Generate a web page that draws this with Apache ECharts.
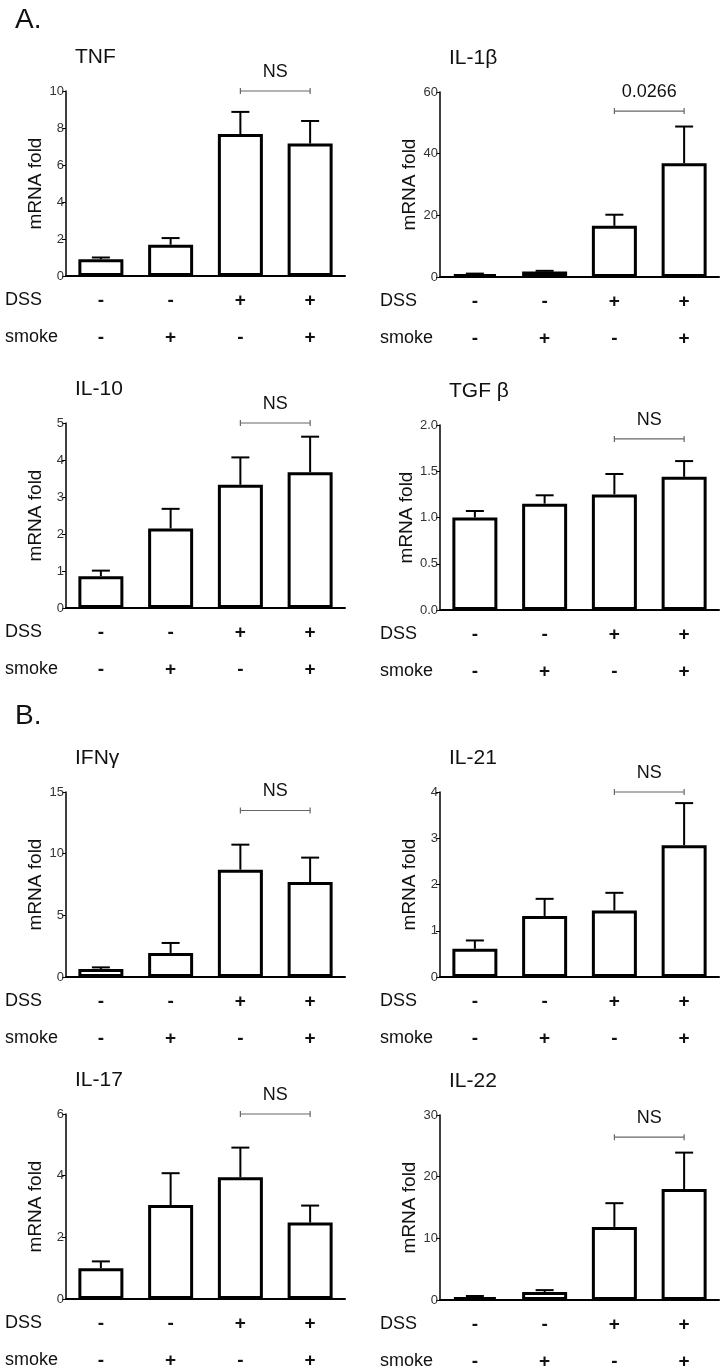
<!DOCTYPE html>
<html>
<head>
<meta charset="utf-8">
<script src="https://cdn.jsdelivr.net/npm/echarts@6/dist/echarts.min.js"></script>
<style>
  html, body { margin: 0; padding: 0; background: #fff; }
  #chart { width: 726px; height: 1371px; }
</style>
</head>
<body>
<div id="chart"></div>
<script>
// 分组：DSS / smoke 处理
const categories = ['DSS-/smoke-', 'DSS-/smoke+', 'DSS+/smoke-', 'DSS+/smoke+'];
const dssRow = ['-', '-', '+', '+'];
const smokeRow = ['-', '+', '-', '+'];

const panelNames = ['TNF', 'IL-1β', 'IL-10', 'TGF β', 'IFNγ', 'IL-21', 'IL-17', 'IL-22'];

// 均值与 SEM
const tnfMean = [0.9, 1.69, 7.67, 7.16];
const tnfSem = [0.1, 0.36, 1.2, 1.22];
const il1bMean = [0.9, 1.8, 16.6, 36.9];
const il1bSem = [0.2, 0.2, 3.6, 11.9];
const il10Mean = [0.86, 2.15, 3.33, 3.67];
const il10Sem = [0.15, 0.53, 0.74, 0.96];
const tgfbMean = [1.0, 1.15, 1.25, 1.44];
const tgfbSem = [0.07, 0.09, 0.22, 0.17];
const ifngMean = [0.65, 1.95, 8.7, 7.7];
const ifngSem = [0.13, 0.81, 2.03, 1.98];
const il21Mean = [0.61, 1.32, 1.44, 2.85];
const il21Sem = [0.18, 0.37, 0.38, 0.91];
const il17Mean = [1.0, 3.05, 3.95, 2.48];
const il17Sem = [0.22, 1.03, 0.96, 0.55];
const il22Mean = [0.48, 1.29, 11.85, 18.0];
const il22Sem = [0.17, 0.31, 3.85, 5.9];

const means = [tnfMean, il1bMean, il10Mean, tgfbMean, ifngMean, il21Mean, il17Mean, il22Mean];
const sems = [tnfSem, il1bSem, il10Sem, tgfbSem, ifngSem, il21Sem, il17Sem, il22Sem];

// y 轴刻度
const yMax = [10, 60, 5, 2, 15, 4, 6, 30];
const yStep = [2, 20, 1, 0.5, 5, 1, 2, 10];

// 显著性标注 (第3组 vs 第4组)
const sigLevel = [10, 53.8, 5, 1.85, 13.5, 4, 6, 26.4];
const sigText = ['NS', '0.0266', 'NS', 'NS', 'NS', 'NS', 'NS', 'NS'];

// 布局
const gridTops = [91, 92, 423, 425, 792, 792, 1114, 1115];
const gridLeft = [66, 440];
const gridW = 279;
const gridH = 185;
const FONT = 'Liberation Sans, Arial, sans-serif';
const INK = '#111';

const chart = echarts.init(document.getElementById('chart'), null, { renderer: 'canvas' });

const grids = [], xAxes = [], yAxes = [], series = [], graphics = [];

panelNames.forEach((name, i) => {
  const col = i % 2;
  const left = gridLeft[col];
  const top = gridTops[i];
  grids.push({ left: left, top: top, width: gridW, height: gridH, outerBoundsMode: 'none', containLabel: false });

  xAxes.push({
    type: 'category',
    gridIndex: i,
    data: categories,
    axisLine: { lineStyle: { color: '#000', width: 2 } },
    axisTick: { alignWithLabel: true, length: 6, lineStyle: { color: '#000', width: 1.5 } },
    axisLabel: {
      interval: 0,
      margin: 6,
      fontSize: 19,
      fontWeight: 'bold',
      lineHeight: 37,
      color: INK,
      fontFamily: FONT,
      formatter: (v, idx) => dssRow[idx] + '\n' + smokeRow[idx]
    }
  });

  yAxes.push({
    type: 'value',
    gridIndex: i,
    min: 0,
    max: yMax[i],
    interval: yStep[i],
    name: 'mRNA fold',
    nameLocation: 'middle',
    nameGap: 21,
    nameTextStyle: { fontSize: 19, color: INK, fontFamily: FONT },
    splitLine: { show: false },
    axisLine: { show: true, lineStyle: { color: '#000', width: 1.5 } },
    axisTick: { show: true, length: 4, lineStyle: { color: '#000', width: 1 } },
    axisLabel: {
      margin: 2,
      fontSize: 13,
      color: '#333',
      fontFamily: FONT,
      formatter: v => (yStep[i] < 1 ? v.toFixed(1) : String(v))
    }
  });

  series.push({
    type: 'bar',
    xAxisIndex: i,
    yAxisIndex: i,
    barWidth: 45,
    data: means[i],
    itemStyle: { color: '#fff', borderColor: '#000', borderWidth: 3 },
    z: 2,
    animation: false
  });

  // 误差线（仅上方）
  series.push({
    type: 'custom',
    xAxisIndex: i,
    yAxisIndex: i,
    data: means[i].map((m, k) => [k, m, m + sems[i][k]]),
    encode: { x: 0, y: [1, 2] },
    z: 3,
    animation: false,
    renderItem: (params, api) => {
      const p0 = api.coord([api.value(0), api.value(1)]);
      const p1 = api.coord([api.value(0), api.value(2)]);
      const st = { stroke: '#000', lineWidth: 2 };
      return {
        type: 'group',
        children: [
          { type: 'line', shape: { x1: p0[0], y1: p0[1], x2: p1[0], y2: p1[1] }, style: st },
          { type: 'line', shape: { x1: p1[0] - 9, y1: p1[1], x2: p1[0] + 9, y2: p1[1] }, style: st }
        ]
      };
    }
  });

  // 显著性括号
  series.push({
    type: 'custom',
    xAxisIndex: i,
    yAxisIndex: i,
    data: [[2, 3, sigLevel[i]]],
    encode: { x: [0, 1], y: 2 },
    clip: false,
    z: 4,
    animation: false,
    renderItem: (params, api) => {
      const a = api.coord([api.value(0), api.value(2)]);
      const b = api.coord([api.value(1), api.value(2)]);
      const st = { stroke: '#666', lineWidth: 1.2 };
      return {
        type: 'group',
        children: [
          { type: 'line', shape: { x1: a[0], y1: a[1], x2: b[0], y2: b[1] }, style: st },
          { type: 'line', shape: { x1: a[0], y1: a[1] - 3, x2: a[0], y2: a[1] + 3 }, style: st },
          { type: 'line', shape: { x1: b[0], y1: b[1] - 3, x2: b[0], y2: b[1] + 3 }, style: st },
          {
            type: 'text',
            style: {
              text: sigText[i],
              x: (a[0] + b[0]) / 2,
              y: a[1] - 19,
              align: 'center',
              verticalAlign: 'middle',
              fontSize: 18,
              fontFamily: FONT,
              fill: INK
            }
          }
        ]
      };
    }
  });

  // 面板标题
  graphics.push({
    type: 'text',
    left: left + 9,
    top: top - 44,
    style: { text: name, fontSize: 21, fontFamily: FONT, fill: INK }
  });

  // 行标签
  const rowX = col === 0 ? 5 : 380;
  graphics.push({
    type: 'text',
    left: rowX,
    top: top + gridH + 15,
    style: { text: 'DSS', fontSize: 18, fontFamily: FONT, fill: INK }
  });
  graphics.push({
    type: 'text',
    left: rowX,
    top: top + gridH + 52,
    style: { text: 'smoke', fontSize: 18, fontFamily: FONT, fill: INK }
  });
});

graphics.push({
  type: 'text', left: 15, top: 6,
  style: { text: 'A.', fontSize: 28, fontFamily: FONT, fill: INK }
});
graphics.push({
  type: 'text', left: 15, top: 702,
  style: { text: 'B.', fontSize: 28, fontFamily: FONT, fill: INK }
});

chart.setOption({
  animation: false,
  backgroundColor: '#fff',
  grid: grids,
  xAxis: xAxes,
  yAxis: yAxes,
  series: series,
  graphic: graphics
});
</script>
</body>
</html>
